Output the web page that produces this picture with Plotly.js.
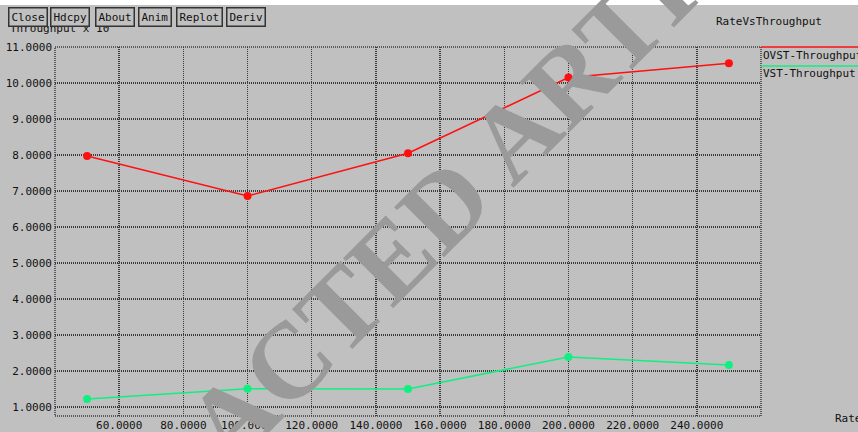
<!DOCTYPE html>
<html>
<head>
<meta charset="utf-8">
<script src="https://cdn.plot.ly/plotly-3.0.1.min.js"></script>
<style>html,body{margin:0;padding:0;background:#c0c0c0;}#chart{width:858px;height:432px;}</style>
</head>
<body>
<div id="chart"></div>
<script>
// ---- data ----
const rates = [50, 100, 150, 200, 250];
const ovstThroughput = [7.97, 6.86, 8.05, 10.15, 10.55];
const vstThroughput = [1.22, 1.51, 1.50, 2.39, 2.17];
const xTickVals = [60, 80, 100, 120, 140, 160, 180, 200, 220, 240];
const yTickVals = [1, 2, 3, 4, 5, 6, 7, 8, 9, 10, 11];
const seriesNames = ['OVST-Throughput', 'VST-Throughput'];
const buttonLabels = ['Close', 'Hdcpy', 'About', 'Anim', 'Replot', 'Deriv'];

// ---- layout geometry (pixels) ----
const FW = 858, FH = 432;
const L = 55, R = 761, T = 47, B = 416;
const PW = R - L, PH = B - T;
const px = x => (x - L) / PW;
const py = y => (B - y) / PH;
const mono = 'DejaVu Sans Mono, monospace';
const red = '#ff1010', green = '#10f080';
const grid = '#3a3a3a';

const traces = [
  {x: rates, y: ovstThroughput, name: seriesNames[0], mode: 'lines+markers',
   line: {color: red, width: 1.5}, marker: {color: red, size: 8}},
  {x: rates, y: vstThroughput, name: seriesNames[1], mode: 'lines+markers',
   line: {color: green, width: 1.5}, marker: {color: green, size: 8}}
];

const btnX = [8, 50, 95, 138, 176, 226];
const annotations = [
  {text: 'Throughput x 10<sup>-</sup>', xref: 'paper', yref: 'paper', x: px(8), y: py(37),
   xanchor: 'left', yanchor: 'bottom', showarrow: false, font: {family: mono, size: 11, color: '#111'}},
  {text: 'RateVsThroughput', xref: 'paper', yref: 'paper', x: px(714), y: py(22),
   xanchor: 'left', yanchor: 'middle', showarrow: false, font: {family: mono, size: 11, color: '#111'}},
  {text: seriesNames[0], xref: 'paper', yref: 'paper', x: px(761), y: py(55),
   xanchor: 'left', yanchor: 'middle', showarrow: false, font: {family: mono, size: 11, color: '#111'}},
  {text: seriesNames[1], xref: 'paper', yref: 'paper', x: px(761), y: py(73),
   xanchor: 'left', yanchor: 'middle', showarrow: false, font: {family: mono, size: 11, color: '#111'}},
  {text: 'Rate', xref: 'paper', yref: 'paper', x: px(833), y: py(418),
   xanchor: 'left', yanchor: 'middle', showarrow: false, font: {family: mono, size: 11, color: '#111'}},
  {text: '<b>REDACTED ARTICLE</b>', xref: 'paper', yref: 'paper', x: px(437), y: py(212),
   xanchor: 'center', yanchor: 'middle', showarrow: false, textangle: -45,
   font: {family: 'Liberation Serif, serif', size: 108, color: '#9a9a9a'}}
];
buttonLabels.forEach((b, i) => {
  annotations.push({text: b, xref: 'paper', yref: 'paper', x: px(btnX[i]), y: py(7),
    xanchor: 'left', yanchor: 'top', showarrow: false, bgcolor: '#c0c0c0',
    bordercolor: '#333', borderwidth: 1.5, borderpad: 2,
    font: {family: mono, size: 11, color: '#111'}});
});

const shapes = [
  {type: 'rect', xref: 'paper', yref: 'paper', x0: px(0), x1: px(FW), y0: py(0), y1: py(5),
   fillcolor: '#ffffff', line: {width: 0}, layer: 'below'},
  {type: 'rect', xref: 'paper', yref: 'paper', x0: 0, x1: 1, y0: 0, y1: 1,
   line: {color: grid, width: 1.5, dash: '1px,1px'}},
  {type: 'line', xref: 'paper', yref: 'paper', x0: px(761), x1: px(FW), y0: py(47), y1: py(47),
   line: {color: red, width: 1.5}},
  {type: 'line', xref: 'paper', yref: 'paper', x0: px(761), x1: px(FW), y0: py(66), y1: py(66),
   line: {color: green, width: 1.5}}
];

const layout = {
  width: FW, height: FH,
  margin: {l: L, r: FW - R, t: T, b: FH - B, pad: 0},
  paper_bgcolor: '#c0c0c0', plot_bgcolor: '#c0c0c0',
  showlegend: false,
  xaxis: {range: [40, 260], tickvals: xTickVals, tickformat: '.4f', showgrid: true,
    gridcolor: grid, gridwidth: 1.5, griddash: '1px,1px', zeroline: false, showline: false,
    ticks: '', automargin: false, ticklabelstandoff: 1,
    tickfont: {family: mono, size: 11, color: '#111'}},
  yaxis: {range: [0.75, 11], tickvals: yTickVals, tickformat: '.4f', showgrid: true,
    gridcolor: grid, gridwidth: 1.5, griddash: '1px,1px', zeroline: false, showline: false,
    ticks: '', automargin: false, ticklabelstandoff: 2,
    tickfont: {family: mono, size: 11, color: '#111'}},
  annotations: annotations,
  shapes: shapes
};

Plotly.newPlot('chart', traces, layout, {displayModeBar: false, staticPlot: true});
</script>
</body>
</html>
